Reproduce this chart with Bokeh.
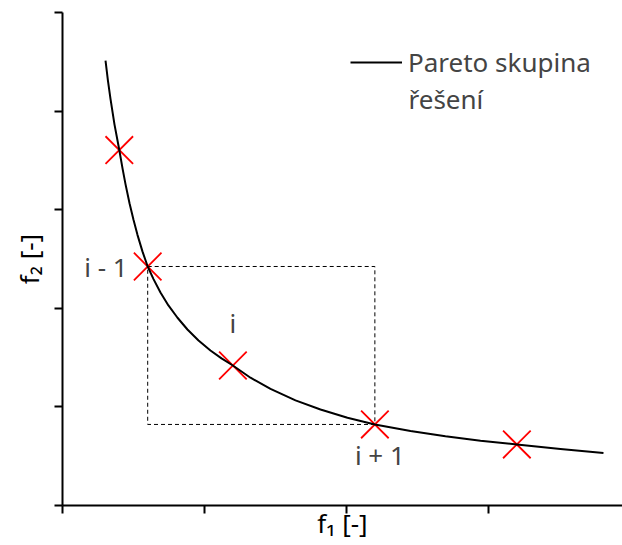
from bokeh.plotting import figure
from bokeh.models import Range1d, FixedTicker, Legend, LegendItem, Label
from bokeh.embed import file_html
from bokeh.resources import INLINE

# Pareto front traced in the (f1, f2) objective space
front_f1 = [0.303, 0.320, 0.338, 0.366, 0.400, 0.423, 0.444, 0.472, 0.500,
            0.528, 0.563, 0.600, 0.641, 0.690, 0.746, 0.810, 0.880, 0.958,
            1.042, 1.120, 1.200, 1.324, 1.465, 1.641, 1.817, 2.007, 2.200,
            2.451, 2.697, 2.944, 3.200, 3.507, 3.810]
front_f2 = [4.513, 4.308, 4.124, 3.866, 3.605, 3.417, 3.257, 3.066, 2.897,
            2.745, 2.577, 2.424, 2.296, 2.161, 2.029, 1.904, 1.785, 1.673,
            1.572, 1.492, 1.420, 1.296, 1.182, 1.066, 0.973, 0.890, 0.822,
            0.756, 0.702, 0.657, 0.619, 0.572, 0.532]

# individual solutions lying on the front
sol_f1 = [0.4, 0.6, 1.2, 2.2, 3.2]
sol_f2 = [3.605, 2.424, 1.420, 0.822, 0.619]

# solution i and its two neighbours, which span the crowding box
sol_labels = ["i - 1", "i", "i + 1"]

x_ticks = [0, 1, 2, 3]
y_ticks = [0, 1, 2, 3, 4, 5]

FONT = "Noto Sans"
FS = "26px"

p = figure(width=622, height=545,
           x_range=Range1d(0, 3.944), y_range=Range1d(0, 5),
           output_backend="svg", toolbar_location=None,
           min_border_left=62, min_border_right=0,
           min_border_top=12, min_border_bottom=40)
p.outline_line_color = None
p.xgrid.visible = False
p.ygrid.visible = False
p.background_fill_color = "white"
p.border_fill_color = "white"

# crowding box spanned by the neighbours i-1 and i+1
p.quad(left=[sol_f1[1]], right=[sol_f1[3]], top=[sol_f2[1]], bottom=[sol_f2[3]],
       fill_color=None, line_color="black", line_width=1, line_dash="4 3")

p.scatter(sol_f1, sol_f2, marker="x", size=39, line_color="red", line_width=1.8)
curve = p.line(front_f1, front_f2, line_color="black", line_width=2,
               line_join="round")

for ax in (p.xaxis[0], p.yaxis[0]):
    ax.axis_line_width = 2
    ax.axis_line_color = "black"
    ax.major_tick_line_width = 2
    ax.major_tick_line_color = "black"
    ax.major_tick_out = 8
    ax.major_tick_in = 0
    ax.minor_tick_out = 0
    ax.minor_tick_in = 0
    # unlabelled ticks
    ax.major_label_text_color = None
    ax.major_label_text_font_size = "1px"
    ax.major_label_standoff = 0
    ax.axis_label_text_font = FONT
    ax.axis_label_text_font_size = FS
    ax.axis_label_text_font_style = "normal"
    ax.axis_label_text_color = "black"

p.xaxis.ticker = FixedTicker(ticks=x_ticks)
p.yaxis.ticker = FixedTicker(ticks=y_ticks)
p.xaxis.axis_label = "f\u2081 [-]"
p.yaxis.axis_label = "f\u2082 [-]"
p.xaxis.axis_label_standoff = -9
p.yaxis.axis_label_standoff = 8

legend = Legend(items=[LegendItem(label="Pareto skupina", renderers=[curve])],
                location=(288, 425), glyph_width=52, label_standoff=6,
                padding=0, margin=0, spacing=0,
                border_line_color=None, background_fill_alpha=0,
                label_text_font=FONT, label_text_font_size=FS)
p.add_layout(legend)

p.add_layout(Label(x=2.437, y=4.026, y_offset=10, text="řešení", text_font=FONT,
                   text_font_size=FS, text_align="left",
                   text_baseline="alphabetic"))

# labels of solution i and its neighbours
label_idx = [1, 2, 3]
label_dx = [-20, 0, 5]
label_dy = [-1, 42, -31]
label_align = ["right", "center", "center"]
for k, idx in enumerate(label_idx):
    p.add_layout(Label(x=sol_f1[idx], y=sol_f2[idx], text=sol_labels[k],
                       x_offset=label_dx[k], y_offset=label_dy[k],
                       text_font=FONT, text_font_size=FS,
                       text_align=label_align[k], text_baseline="alphabetic"))

open("out.html", "w").write(file_html(p, INLINE))
